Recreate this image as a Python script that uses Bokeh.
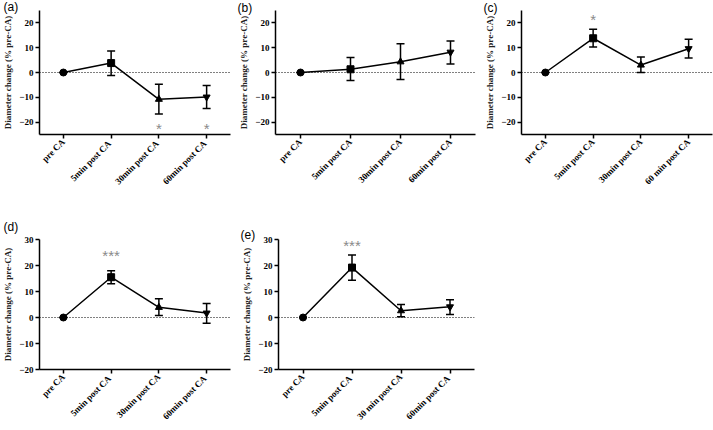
import math
from bokeh.plotting import figure
from bokeh.models import ColumnDataSource, Whisker, TeeHead, Span, Title, FactorRange, Range1d, FixedTicker
from bokeh.layouts import row, column
from bokeh.embed import file_html
from bokeh.resources import INLINE
from bokeh.core.properties import value

markers = ["circle", "square", "triangle", "inverted_triangle"]

# ---- data ----
cats_a = ["pre CA", "5min post  CA", "30min post  CA", "60min post  CA"]
mean_a = [0, 3.8, -10.8, -9.9]
lo_a = [0, -1.2, -16.7, -14.5]
hi_a = [0, 8.7, -4.7, -5.2]
sig_a = ["", "", "*", "*"]
sigy_a = [0, 0, -22.5, -22.5]

cats_b = ["pre CA", "5min post CA", "30min post CA", "60min post CA"]
mean_b = [0, 1.3, 4.3, 8.2]
lo_b = [0, -3.2, -2.8, 3.4]
hi_b = [0, 6.0, 11.6, 12.7]
sig_b = ["", "", "", ""]
sigy_b = [0, 0, 0, 0]

cats_c = ["pre CA", "5min post CA", "30min post CA", "60 min post CA"]
mean_c = [0, 13.8, 3.0, 9.6]
lo_c = [0, 10.3, 0.0, 5.8]
hi_c = [0, 17.4, 6.2, 13.4]
sig_c = ["", "*", "", ""]
sigy_c = [0, 21.5, 0, 0]

cats_d = ["pre CA", "5min post  CA", "30min post CA", "60min post  CA"]
mean_d = [0, 15.5, 3.9, 1.7]
lo_d = [0, 13.0, 0.8, -2.2]
hi_d = [0, 18.0, 7.2, 5.4]
sig_d = ["", "***", "", ""]
sigy_d = [0, 24, 0, 0]

cats_e = ["pre CA", "5min post  CA", "30 min post CA", "60min post  CA"]
mean_e = [0, 19.2, 2.6, 4.1]
lo_e = [0, 14.3, 0.3, 1.2]
hi_e = [0, 24.0, 5.0, 6.8]
sig_e = ["", "***", "", ""]
sigy_e = [0, 27.7, 0, 0]

ticks_top = [-20, -10, 0, 10, 20]
ticks_bot = [-20, -10, 0, 10, 20, 30]

SERIF = "Liberation Serif"
SANS = "Liberation Sans"


def panel(letter, cats, mean, lo, hi, sig, sigy, yr, ticks,
          width, height, left, right, top, bottom, lab_x, standoff, valign):
    p = figure(width=width, height=height, x_range=FactorRange(*cats),
               y_range=Range1d(*yr), output_backend="svg", toolbar_location=None,
               min_border_left=left, min_border_right=right,
               min_border_top=top, min_border_bottom=bottom)
    p.outline_line_color = None
    p.grid.visible = False
    p.background_fill_color = "white"
    p.border_fill_color = "white"

    t = Title(text="(" + letter + ")", text_font=SANS, text_font_size="12px",
              text_font_style="normal", text_color="black", align="left",
              vertical_align=valign, offset=lab_x - left, standoff=standoff)
    p.add_layout(t, "above")

    for ax in (p.xaxis[0], p.yaxis[0]):
        ax.axis_line_width = 1.5
        ax.axis_line_color = "black"
        ax.major_tick_line_width = 1.5
        ax.major_tick_in = 0
        ax.major_tick_out = 4
        ax.minor_tick_line_color = None
        ax.major_label_text_font = SERIF
        ax.major_label_text_font_style = "bold"
        ax.major_label_text_font_size = "9px"
        ax.major_label_text_color = "black"
        ax.major_label_standoff = 2
    p.yaxis.ticker = FixedTicker(ticks=ticks)
    p.yaxis.axis_label = "Diameter change (% pre-CA)"
    p.yaxis.axis_label_text_font = SERIF
    p.yaxis.axis_label_text_font_style = "bold"
    p.yaxis.axis_label_text_font_size = "9px"
    p.yaxis.axis_label_text_color = "#222222"
    p.yaxis.axis_label_standoff = 3
    p.xaxis.major_label_orientation = math.pi / 4

    p.add_layout(Span(location=0, dimension="width", line_color="black",
                      line_dash="1 2", line_width=1.2))

    src = ColumnDataSource(dict(x=cats, m=mean, lo=lo, hi=hi, mk=markers))
    w = Whisker(base="x", upper="hi", lower="lo", source=src,
                line_width=1.5, line_color="black",
                upper_head=TeeHead(size=8, line_width=1.5, line_color="black"),
                lower_head=TeeHead(size=8, line_width=1.5, line_color="black"))
    p.add_layout(w)
    p.line("x", "m", source=src, line_color="black", line_width=1.5)
    p.scatter("x", "m", source=src, marker="mk", size=7, color="black")

    ssrc = ColumnDataSource(dict(x=cats, y=sigy, t=sig))
    p.text("x", "y", text="t", source=ssrc, text_align="center",
           text_baseline="middle", text_color="#8a8a8a",
           text_font=value(SANS), text_font_size="15px")
    return p


pa = panel("a", cats_a, mean_a, lo_a, hi_a, sig_a, sigy_a, (-25, 25), ticks_top,
           232, 215, 36, 2, 10, 77, 0, -6, "bottom")
pb = panel("b", cats_b, mean_b, lo_b, hi_b, sig_b, sigy_b, (-25, 25), ticks_top,
           244, 215, 43, 1, 7, 75, 5, -8, "bottom")
pc = panel("c", cats_c, mean_c, lo_c, hi_c, sig_c, sigy_c, (-25, 25), ticks_top,
           237, 215, 45, 1, 7, 81, 7, -8, "bottom")
pd_ = panel("d", cats_d, mean_d, lo_d, hi_d, sig_d, sigy_d, (-20, 30), ticks_bot,
            232, 215, 36, 2, 23, 61, 0, 7, "top")
pe = panel("e", cats_e, mean_e, lo_e, hi_e, sig_e, sigy_e, (-20, 30), ticks_bot,
           244, 215, 46, 2, 24, 60, 8, -4, "bottom")

layout = column(row(pa, pb, pc), row(pd_, pe))
open("out.html", "w").write(file_html(layout, INLINE))
